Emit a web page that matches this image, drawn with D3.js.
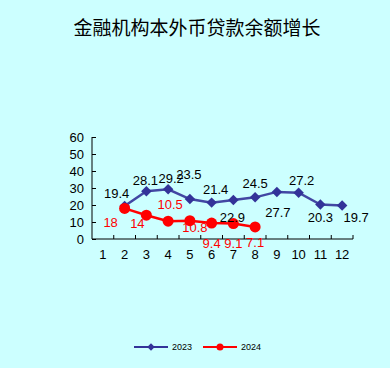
<!DOCTYPE html>
<html><head><meta charset="utf-8">
<script src="https://cdn.jsdelivr.net/npm/d3@7"></script>
<style>html,body{margin:0;padding:0;background:#CCFFFF;}</style>
</head><body>
<svg id="c" width="390" height="368"></svg>
<script>
const title = "金融机构本外币贷款余额增长";
const months = ["1","2","3","4","5","6","7","8","9","10","11","12"];
const yTicks = [0,10,20,30,40,50,60];
const months2023 = ["2","3","4","5","6","7","8","9","10","11","12"];
const values2023 = [19.4,28.1,29.2,23.5,21.4,22.9,24.5,27.7,27.2,20.3,19.7];
const labels2023 = ["19.4","28.1","29.2","23.5","21.4","22.9","24.5","27.7","27.2","20.3","19.7"];
const months2024 = ["2","3","4","5","6","7","8"];
const values2024 = [18,14,10.5,10.8,9.4,9.1,7.1];
const labels2024 = ["18","14","10.5","10.8","9.4","9.1","7.1"];
const seriesNames = ["2023","2024"];

// label placement offsets (dx, dy from point) — styling
const off2023 = [[-8,-13],[-1,-11],[3,-11],[-1,-25],[4,-13],[-1,17],[0,-14],[1,21],[3,-12],[0,13],[14,12]];
const off2024 = [[-14,14],[-9,8],[2,-17],[5,7],[0,20],[0,20],[0,16]];

const svg = d3.select("#c");
const x = d3.scaleBand().domain(months).range([92,353]);
const y = d3.scaleLinear().domain([0,60]).range([239,137]);
const cx = m => x(m) + x.bandwidth()/2;

svg.append("text").attr("x",197).attr("y",35).attr("text-anchor","middle")
  .attr("font-family","'Noto Sans CJK SC'").attr("font-size",19).attr("fill","#000").text(title);

const numFont = "'Liberation Sans',Arial,sans-serif";

// y axis
const ya = svg.append("g").attr("transform","translate(92,0)")
  .call(d3.axisRight(y).tickValues(yTicks).tickSize(4).tickFormat(d3.format("d")));
ya.select(".domain").attr("stroke","#000").attr("d","M0,"+y(60)+"V"+y(0));
ya.selectAll(".tick line").attr("stroke","#000");
ya.selectAll(".tick text").attr("x",-8).attr("text-anchor","end").attr("font-family",numFont).attr("font-size",13).attr("fill","#000");

// x axis
const xa = svg.append("g").attr("transform","translate(0,239)")
  .call(d3.axisBottom(x).tickSize(0).tickPadding(10));
xa.select(".domain").attr("stroke","#000").attr("d","M92,0H353");
xa.selectAll(".tick text").attr("font-family",numFont).attr("font-size",13).attr("fill","#000").attr("dy","0.8em");
svg.append("g").selectAll("line").data(months.slice(1).concat(["end"])).join("line")
  .attr("x1",d=> d==="end"?353:x(d)).attr("x2",d=> d==="end"?353:x(d))
  .attr("y1",239).attr("y2",235).attr("stroke","#000");

const c1 = "#333399", c2 = "#FF0000";
const line = d3.line().x(d=>cx(d[0])).y(d=>y(d[1]));
const d23 = months2023.map((m,i)=>[m,values2023[i]]);
const d24 = months2024.map((m,i)=>[m,values2024[i]]);
svg.append("path").attr("d",line(d23)).attr("fill","none").attr("stroke",c1).attr("stroke-width",2.5).attr("stroke-opacity",0.9);
svg.append("path").attr("d",line(d24)).attr("fill","none").attr("stroke",c2).attr("stroke-width",2.5);
const diamond = d3.symbol().type(d3.symbolDiamond2).size(70);
svg.append("g").selectAll("path").data(d23).join("path")
  .attr("d",diamond).attr("transform",d=>`translate(${cx(d[0])},${y(d[1])})`).attr("fill",c1);
svg.append("g").selectAll("circle").data(d24).join("circle")
  .attr("cx",d=>cx(d[0])).attr("cy",d=>y(d[1])).attr("r",5.5).attr("fill",c2);

svg.append("g").selectAll("text").data(d23).join("text")
  .attr("x",(d,i)=>cx(d[0])+off2023[i][0]).attr("y",(d,i)=>y(d[1])+off2023[i][1])
  .attr("dy","0.35em").attr("text-anchor","middle").attr("font-family",numFont).attr("font-size",13)
  .attr("fill","#000").text((d,i)=>labels2023[i]);
svg.append("g").selectAll("text").data(d24).join("text")
  .attr("x",(d,i)=>cx(d[0])+off2024[i][0]).attr("y",(d,i)=>y(d[1])+off2024[i][1])
  .attr("dy","0.35em").attr("text-anchor","middle").attr("font-family",numFont).attr("font-size",13)
  .attr("fill",c2).text((d,i)=>labels2024[i]);

// legend
const lg = svg.append("g");
[[134,c1,"d"],[203,c2,"c"]].forEach((l,i)=>{
  lg.append("line").attr("x1",l[0]).attr("x2",l[0]+34).attr("y1",347).attr("y2",347).attr("stroke",l[1]).attr("stroke-width",2);
  if(l[2]==="d") lg.append("path").attr("d",d3.symbol().type(d3.symbolDiamond2).size(36)).attr("transform",`translate(${l[0]+17},347)`).attr("fill",l[1]);
  else lg.append("circle").attr("cx",l[0]+17).attr("cy",347).attr("r",3.5).attr("fill",l[1]);
  lg.append("text").attr("x",l[0]+38).attr("y",347).attr("dy","0.35em").attr("font-family",numFont).attr("font-size",9).attr("fill","#000").text(seriesNames[i]);
});
</script>
</body></html>
